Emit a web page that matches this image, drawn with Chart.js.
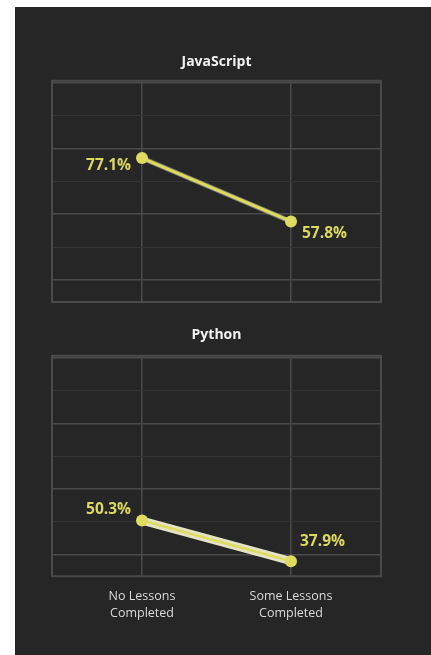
<!DOCTYPE html>
<html>
<head>
<meta charset="utf-8">
<script src="https://cdn.jsdelivr.net/npm/chart.js@4/dist/chart.umd.min.js"></script>
<style>
  html, body { margin: 0; padding: 0; background: #ffffff; }
  body { width: 431px; height: 655px; position: relative; overflow: hidden; }
  #panel { position: absolute; left: 15px; top: 7px; width: 416px; height: 648px; background: #262626; }
  .box { position: absolute; left: 0; width: 431px; }
</style>
</head>
<body>
<div id="panel"></div>
<div class="box" style="top:0;height:320px"><canvas id="jsChart"></canvas></div>
<div class="box" style="top:320px;height:335px"><canvas id="pyChart"></canvas></div>
<script>
// data
var categories = ['No Lessons Completed', 'Some Lessons Completed'];
var jsValues = [77.1, 57.8];
var pyValues = [50.3, 37.9];
var gridTicks = [40, 50, 60, 70, 80, 90, 100];

var yellow = '#dedb60';
var labelYellow = '#dcd85c';
var majorGrid = '#4a4a4a';
var minorGrid = '#333333';

function toPoints(values) {
  return values.map(function (v, i) { return { x: i, y: v }; });
}

// frame around plot area
var frame = {
  id: 'frame',
  beforeDatasetsDraw: function (chart) {
    var a = chart.chartArea, c = chart.ctx;
    c.save();
    c.strokeStyle = majorGrid;
    c.lineWidth = 2;
    c.strokeRect(a.left, a.top, a.right - a.left, a.bottom - a.top);
    c.restore();
  }
};

// value labels next to points
var valueLabels = {
  id: 'valueLabels',
  afterDatasetsDraw: function (chart, args, opts) {
    var c = chart.ctx;
    var meta = chart.getDatasetMeta(opts.dataset);
    var values = chart.data.datasets[opts.dataset].data;
    c.save();
    c.font = 'bold 15.5px "Open Sans"';
    c.fillStyle = labelYellow;
    c.textBaseline = 'middle';
    meta.data.forEach(function (pt, i) {
      var o = opts.offsets[i];
      c.textAlign = o[2];
      c.fillText(values[i].y.toFixed(1) + '%', pt.x + o[0], pt.y + o[1]);
    });
    c.restore();
  }
};

function makeOptions(title, titlePad, padding, showX, offsets, labelSet) {
  return {
    responsive: true,
    maintainAspectRatio: false,
    animation: false,
    layout: { padding: padding },
    plugins: {
      legend: { display: false },
      tooltip: { enabled: false },
      title: {
        display: true,
        text: title,
        color: '#f2f2f2',
        font: { family: 'Open Sans', size: 14, weight: 'bold' },
        padding: titlePad
      },
      valueLabels: { dataset: labelSet, offsets: offsets }
    },
    scales: {
      x: {
        type: 'linear',
        min: -0.604,
        max: 1.604,
        afterBuildTicks: function (axis) {
          axis.ticks = [{ value: 0 }, { value: 1 }];
        },
        border: { display: false },
        grid: { color: majorGrid, lineWidth: 1.5, drawTicks: false },
        ticks: {
          display: showX,
          padding: 12,
          color: '#d9d9d9',
          font: { family: 'Open Sans', size: 12.5, lineHeight: 1.35 },
          callback: function (v) {
            var words = categories[v].split(' ');
            return [words[0] + ' ' + words[1], words[2]];
          }
        }
      },
      y: {
        min: 33.3,
        max: 100.6,
        afterBuildTicks: function (axis) {
          axis.ticks = gridTicks.map(function (v) { return { value: v }; });
        },
        border: { display: false },
        grid: {
          drawTicks: false,
          color: function (ctx) { return ctx.tick && ctx.tick.value % 20 === 0 ? majorGrid : minorGrid; },
          lineWidth: function (ctx) { return ctx.tick && ctx.tick.value % 20 === 0 ? 1.5 : 1; }
        },
        ticks: { display: false }
      }
    }
  };
}

new Chart(document.getElementById('jsChart'), {
  type: 'line',
  data: {
    datasets: [{
      data: toPoints(jsValues),
      borderColor: yellow,
      borderWidth: 3,
      pointRadius: 6,
      pointBackgroundColor: yellow,
      pointBorderWidth: 0,
      order: 1
    }, {
      data: toPoints(jsValues),
      borderColor: 'rgba(240,238,200,0.45)',
      borderWidth: 5,
      pointRadius: 0,
      order: 2
    }]
  },
  options: makeOptions('JavaScript', { top: 0, bottom: 10 },
    { top: 54, bottom: 18, left: 52, right: 50 }, false,
    [[-11, 8, 'right'], [11, 12, 'left']], 0),
  plugins: [frame, valueLabels]
});

new Chart(document.getElementById('pyChart'), {
  type: 'line',
  data: {
    datasets: [{
      data: toPoints(pyValues),
      borderColor: yellow,
      borderWidth: 2.5,
      pointRadius: 6,
      pointBackgroundColor: yellow,
      pointBorderWidth: 0,
      order: 1
    }, {
      data: toPoints(pyValues),
      borderColor: 'rgba(250,248,215,0.9)',
      borderWidth: 8,
      pointRadius: 0,
      order: 2
    }]
  },
  options: makeOptions('Python', { top: 0, bottom: 12 },
    { top: 7, bottom: 21, left: 52, right: 50 }, true,
    [[-11, -11, 'right'], [9, -20, 'left']], 0),
  plugins: [frame, valueLabels]
});
</script>
</body>
</html>
